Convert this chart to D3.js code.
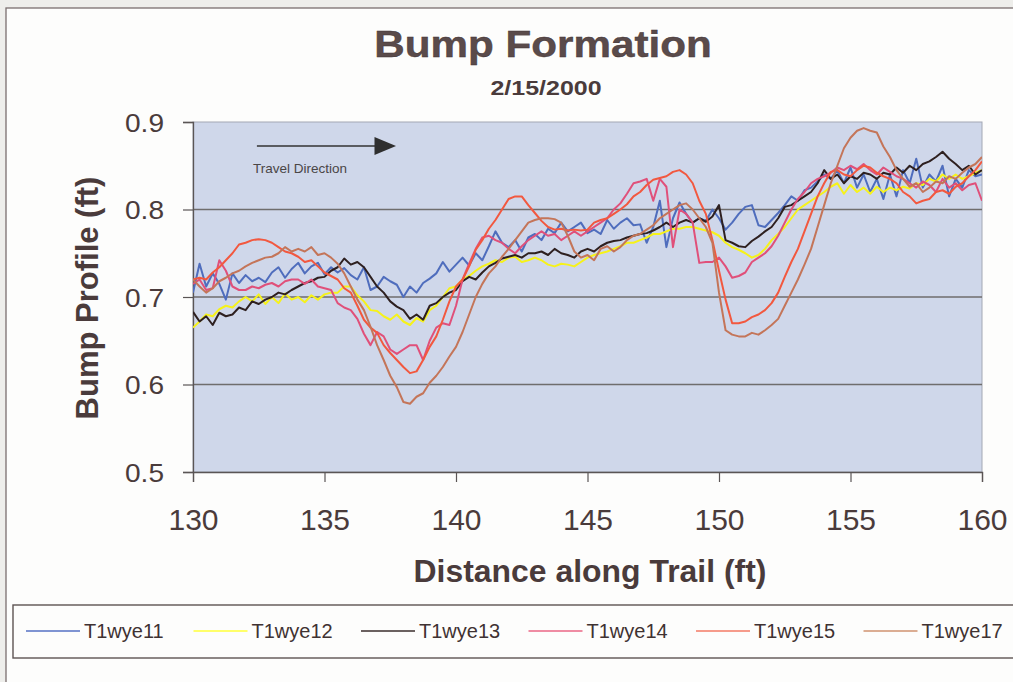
<!DOCTYPE html>
<html><head><meta charset="utf-8">
<script src="https://cdn.jsdelivr.net/npm/d3@7"></script>
<style>
body{margin:0;background:#efefec;}
svg{display:block;}
text{font-family:"Liberation Sans",Arial,Helvetica,sans-serif;}
</style>
</head><body>
<svg id="chart" width="1013" height="682"></svg>
<script>
// ---------------- DATA ----------------
const distance = d3.range(130, 160.001, 0.25); // sampling positions (ft)
const seriesNames = ["T1wye11","T1wye12","T1wye13","T1wye14","T1wye15","T1wye17"];
const seriesColors = ["#4f6dbd","#f6f21a","#2e2020","#e0507a","#f2583f","#c47559"];
const legendColors = ["#5570c4","#ffff3a","#3a2c2c","#ea6686","#f37a66","#cf9270"];

const t1wye11 = [
.705,.738,.712,.727, .715,.697,.727,.716, .725,.718,.722,.717, .728,.734,.722,.732,
.739,.727,.735,.739, .726,.734,.728,.733, .725,.72,.734,.708, .712,.723,.718,.714,
.70,.712,.705,.716, .721,.727,.74,.729, .737,.745,.736,.75, .742,.758,.775,.762,
.757,.765,.752,.768, .772,.765,.778,.773, .785,.775,.78,.785, .773,.777,.772,.788,
.778,.785,.79,.782, .783,.762,.78,.81, .757,.79,.808,.795, .785,.79,.787,.80,
.79,.777,.785,.795, .803,.805,.782,.78, .788,.796,.805,.815, .81,.822,.825,.832,
.84,.835,.845,.83, .848,.825,.84,.82, .835,.812,.84,.815, .845,.83,.858,.825,
.84,.832,.85,.815, .835,.825,.845,.838, .84];

const t1wye12 = [
.665,.672,.68,.678, .686,.69,.688,.695, .70,.695,.703,.692, .70,.693,.704,.697,
.70,.694,.702,.697, .703,.705,.705,.712, .712,.702,.695,.685, .684,.678,.674,.68,
.672,.668,.676,.672, .685,.69,.70,.71, .712,.72,.724,.73, .735,.738,.742,.74,
.745,.746,.74,.742, .745,.742,.737,.735, .738,.737,.735,.74, .745,.748,.75,.752,
.755,.758,.762,.762, .765,.768,.772,.772, .775,.778,.778,.78, .78,.778,.776,.774,
.77,.762,.757,.754, .75,.745,.748,.755, .765,.772,.78,.79, .80,.805,.81,.815,
.82,.826,.83,.818, .828,.82,.825,.818, .826,.82,.825,.822, .826,.824,.83,.828,
.835,.832,.84,.835, .84,.835,.838,.842, .845];

const t1wye13 = [
.683,.672,.678,.668, .682,.678,.68,.688, .685,.695,.692,.697, .70,.705,.703,.708,
.712,.716,.718,.722, .723,.73,.734,.744, .737,.74,.734,.723, .712,.705,.695,.689,
.685,.675,.68,.674, .69,.693,.70,.705, .708,.718,.723,.72, .728,.735,.739,.744,
.746,.748,.745,.75, .75,.752,.748,.755, .75,.748,.745,.752, .755,.752,.758,.762,
.764,.765,.768,.77, .772,.773,.776,.78, .785,.78,.785,.788, .785,.79,.786,.792,
.805,.765,.762,.758, .757,.764,.769,.775, .78,.79,.803,.805, .81,.815,.82,.83,
.845,.835,.84,.83, .838,.835,.842,.84, .835,.842,.84,.848, .842,.85,.845,.852,
.855,.86,.866,.858, .852,.845,.85,.84, .845];

const t1wye14 = [
.715,.72,.708,.71, .742,.73,.712,.708, .708,.712,.71,.714, .716,.712,.718,.72,
.72,.715,.72,.712, .71,.708,.693,.688, .685,.675,.658,.645, .66,.655,.64,.635,
.64,.645,.645,.628, .65,.665,.67,.668, .69,.72,.738,.755, .768,.77,.765,.762,
.755,.75,.758,.765, .77,.775,.77,.772, .765,.77,.775,.77, .775,.78,.785,.79,
.80,.807,.818,.83, .832,.835,.81,.835, .826,.757,.80,.795, .785,.739,.74,.74,
.745,.735,.722,.724, .728,.74,.745,.75, .758,.77,.785,.80, .812,.82,.83,.835,
.838,.842,.848,.845, .85,.846,.852,.845, .84,.848,.843,.838, .835,.83,.825,.832,
.828,.82,.835,.825, .83,.822,.828,.83, .81];

const t1wye15 = [
.72,.722,.72,.728, .734,.742,.75,.76, .762,.765,.766,.765, .762,.757,.752,.75,
.746,.74,.742,.735, .728,.724,.72,.71, .705,.69,.674,.665, .659,.645,.636,.628,
.62,.613,.615,.628, .643,.655,.674,.695, .712,.72,.735,.754, .765,.778,.788,.80,
.812,.815,.815,.805, .796,.787,.78,.777, .778,.776,.777,.776, .777,.785,.788,.79,
.795,.80,.806,.815, .82,.828,.834,.836, .838,.843,.845,.84, .83,.81,.795,.765,
.73,.697,.67,.67, .672,.677,.68,.685, .693,.705,.723,.74, .755,.775,.795,.815,
.83,.843,.845,.84, .838,.845,.85,.848, .842,.838,.835,.83, .82,.815,.807,.81,
.812,.82,.822,.818, .826,.83,.838,.845, .855];

const t1wye17 = [
.72,.712,.705,.71, .718,.722,.727,.73, .735,.739,.742,.745, .746,.75,.757,.752,
.755,.752,.757,.748, .75,.745,.738,.727, .712,.697,.685,.666, .645,.628,.61,.597,
.58,.578,.586,.59, .602,.61,.62,.632, .643,.66,.68,.70, .715,.727,.735,.746,
.755,.765,.775,.785, .788,.79,.79,.789, .785,.77,.752,.745, .748,.742,.755,.758,
.752,.757,.765,.77, .772,.777,.782,.79, .795,.80,.805,.807, .80,.79,.78,.762,
.705,.662,.657,.655, .655,.659,.657,.662, .668,.675,.69,.705, .72,.737,.755,.78,
.805,.83,.85,.87, .882,.89,.893,.89, .888,.872,.86,.845, .835,.826,.83,.82,
.825,.832,.83,.838, .835,.842,.848,.852, .86];

const seriesValues = [t1wye11, t1wye12, t1wye13, t1wye14, t1wye15, t1wye17];

const xTicks = [130,135,140,145,150,155,160];
const yTicks = [0.5,0.6,0.7,0.8,0.9];
const gridValues = [0.6,0.7,0.8];
const titleText = "Bump Formation";
const subtitleText = "2/15/2000";
const xTitle = "Distance along Trail (ft)";
const yTitle = "Bump Profile (ft)";
const annotationText = "Travel Direction";

// ---------------- DRAW ----------------
const svg = d3.select("#chart");
const textCol = "#4a3b3b";

// page + frame
svg.append("rect").attr("x",0).attr("y",0).attr("width",1013).attr("height",682).attr("fill","#eeeeeb");
svg.append("rect").attr("x",6).attr("y",8).attr("width",1030).attr("height",700)
  .attr("fill","#fdfdfc").attr("stroke","#7a6f6f").attr("stroke-width",1.3);

const x = d3.scaleLinear().domain([130,160]).range([193,982]);
const y = d3.scaleLinear().domain([0.5,0.9]).range([472,122]);

// plot area
svg.append("rect").attr("x",x(130)).attr("y",y(0.9))
  .attr("width",x(160)-x(130)).attr("height",y(0.5)-y(0.9))
  .attr("fill","#cfd7ea").attr("stroke","#a3a8b4").attr("stroke-width",1);

// gridlines
svg.append("g").selectAll("line").data(gridValues).join("line")
  .attr("x1",x(130)).attr("x2",x(160)).attr("y1",d=>y(d)).attr("y2",d=>y(d))
  .attr("stroke","#6f6d6d").attr("stroke-width",1.4);

// axes
const yAxis = svg.append("g").attr("transform",`translate(${x(130)},0)`)
  .call(d3.axisLeft(y).tickValues(yTicks).tickSize(10).tickFormat(d3.format(".1f")));
const xAxis = svg.append("g").attr("transform",`translate(0,${y(0.5)})`)
  .call(d3.axisBottom(x).tickValues(xTicks).tickSize(10).tickFormat(d3.format("d")));
[yAxis,xAxis].forEach(a=>{
  a.selectAll("path.domain").attr("stroke","#5a5555").attr("stroke-width",1.3);
  a.selectAll(".tick line").attr("stroke","#5a5555").attr("stroke-width",1.2);
  a.selectAll(".tick text").attr("fill",textCol)
    .style("font-family","'Liberation Sans',Arial,sans-serif");
});
yAxis.selectAll(".tick text").style("font-size","26px")
  .attr("x",-29/1.08).attr("dy","0.36em").attr("transform","scale(1.08,1)");
xAxis.selectAll(".tick text").style("font-size","30px").attr("y",58).attr("dy",0);

// clip
svg.append("clipPath").attr("id","clip").append("rect")
  .attr("x",x(130)).attr("y",y(0.9)).attr("width",x(160)-x(130)).attr("height",y(0.5)-y(0.9));

const line = d3.line().x(d=>x(d[0])).y(d=>y(d[1]));
const gLines = svg.append("g").attr("clip-path","url(#clip)");
seriesValues.forEach((vals,i)=>{
  const pts = distance.map((d,j)=>[d, vals[j]]);
  gLines.append("path").datum(pts).attr("d",line).attr("fill","none")
    .attr("stroke",seriesColors[i]).attr("stroke-width",2).attr("stroke-linejoin","round");
});

// annotation arrow
const ay = y(0.8726);
svg.append("line").attr("x1",x(132.43)).attr("x2",x(137.0)).attr("y1",ay).attr("y2",ay)
  .attr("stroke","#333").attr("stroke-width",1.6);
svg.append("path")
  .attr("d",`M${x(136.9)},${ay-9} L${x(137.72)},${ay} L${x(136.9)},${ay+9} Z`)
  .attr("fill","#2f2f2f");
svg.append("text").attr("x",x(132.28)).attr("y",y(0.8417))
  .attr("fill","#4a4646").style("font-size","13.5px").text(annotationText);

// titles
svg.append("g").attr("transform","translate(543,57) scale(1.14,1)")
  .append("text").attr("text-anchor","middle").attr("fill","#5a4b4b")
  .attr("stroke","#3d3030").attr("stroke-width",0.4)
  .style("font-size","37px").style("font-weight","bold").text(titleText);
svg.append("g").attr("transform","translate(546,95) scale(1.25,1)")
  .append("text").attr("text-anchor","middle").attr("fill","#4a3b3b")
  .style("font-size","20px").style("font-weight","bold").text(subtitleText);
svg.append("g").attr("transform","translate(590,582) scale(1.03,1)")
  .append("text").attr("text-anchor","middle").attr("fill","#4a3b3b")
  .style("font-size","31px").style("font-weight","bold").text(xTitle);
svg.append("g").attr("transform","translate(98,298) rotate(-90)")
  .append("text").attr("text-anchor","middle").attr("fill","#4a3b3b")
  .style("font-size","31px").style("font-weight","bold").text(yTitle);

// legend
svg.append("rect").attr("x",13).attr("y",605).attr("width",1020).attr("height",53)
  .attr("fill","none").attr("stroke","#5d5353").attr("stroke-width",1.4);
const lg = svg.append("g").selectAll("g").data(seriesNames).join("g")
  .attr("transform",(d,i)=>`translate(${26+i*167.5},0)`);
lg.append("line").attr("x1",0).attr("x2",54).attr("y1",631).attr("y2",631)
  .attr("stroke",(d,i)=>legendColors[i]).attr("stroke-width",1.6);
lg.append("text").attr("x",58).attr("y",638).attr("fill","#3f3232")
  .style("font-size","20px").text(d=>d);
</script>
</body></html>
